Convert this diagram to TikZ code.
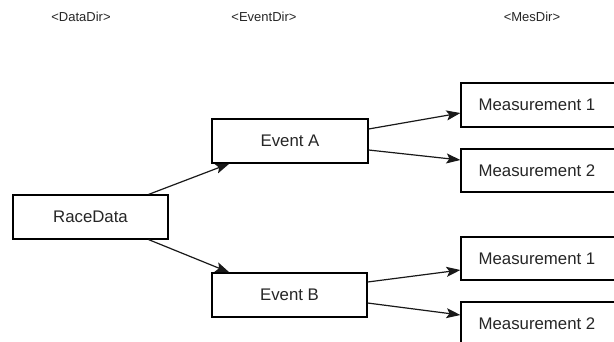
\documentclass[tikz,border=0pt]{standalone}
\usepackage{fontspec}
\setmainfont{Liberation Sans}
\usetikzlibrary{arrows.meta}
\begin{document}
\begin{tikzpicture}[x=1pt,y=-1pt,
  box/.style={draw=black, line width=1.2pt, fill=white, minimum width=155pt, minimum height=44pt, inner sep=0pt, font=\fontsize{16.8}{20}\selectfont, text=black!85},
  mbox/.style={box, minimum width=160pt},
  hdr/.style={font=\fontsize{13}{15}\selectfont, text=black!85},
  conn/.style={draw=black!90, line width=1.2pt, -{Stealth[length=14pt,width=10pt,inset=3pt]}}]
\useasboundingbox (0,0) rectangle (614,341);
\clip (0,0) rectangle (614,341);
\fill[white] (0,0) rectangle (614,341);
\node[hdr] (h1) at (81,17) {<DataDir>};
\node[hdr] (h2) at (264,17) {<EventDir>};
\node[hdr] (h3) at (532,17) {<MesDir>};
\node[box] (rd) at (90.5,217) {RaceData};
\node[box, minimum width=156pt] (ea) at (290,141) {Event A};
\node[box] (eb) at (289.5,295) {Event B};
\node[mbox, minimum height=44pt] (m1a) at (541,105) {\kern-8pt Measurement 1};
\node[mbox, minimum height=43pt] (m2a) at (541,170.5) {\kern-8pt Measurement 2};
\node[mbox, minimum height=43pt] (m1b) at (541,258.5) {\kern-8pt Measurement 1};
\node[mbox, minimum height=44pt] (m2b) at (541,324) {\kern-8pt Measurement 2};
\draw[conn] ([xshift=-20pt]rd.north east) -- ([xshift=18pt]ea.south west);
\draw[conn] ([xshift=-20pt]rd.south east) -- ([xshift=18pt]eb.north west);
\draw[conn] ([yshift=12pt]ea.east) -- ([yshift=-8pt]m1a.west);
\draw[conn] ([yshift=-9pt]ea.east) -- ([yshift=10.5pt]m2a.west);
\draw[conn] ([yshift=13pt]eb.east) -- ([yshift=-11.5pt]m1b.west);
\draw[conn] ([yshift=-8pt]eb.east) -- ([yshift=9pt]m2b.west);
\end{tikzpicture}
\end{document}
